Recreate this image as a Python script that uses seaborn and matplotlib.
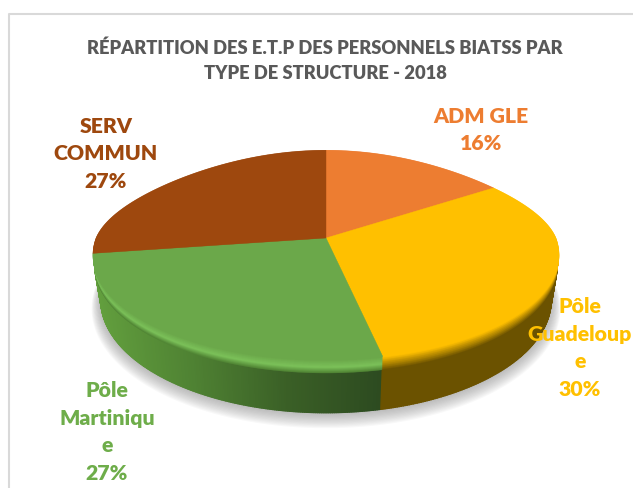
"""Stacked 3D-look pie of BIATSS staff by structure type, 2018."""

import matplotlib
matplotlib.use('Agg')
import matplotlib.pyplot as plt
from matplotlib.collections import PolyCollection
from matplotlib.patches import Polygon
import numpy as np
import seaborn as sns

title = 'RÉPARTITION DES E.T.P DES PERSONNELS BIATSS PAR\nTYPE DE STRUCTURE - 2018'
categories = ['ADM GLE', 'Pôle\nGuadeloup\ne', 'Pôle\nMartiniqu\ne', 'SERV\nCOMMUN']
values = [16, 30, 27, 27]
top_colors = ['#ed7d31', '#ffc000', '#6ba84a', '#9e480e']
rim_colors = ['#7a3f17', '#6b5200', '#4f8233', '#5a2a08']
bevel_colors = ['#f08a45', '#b89000', '#7cc25a', '#a8521a']
label_colors = ['#ed7d31', '#ffc000', '#6ead4a', '#9e480e']
label_pos = [(481, 130), (580, 348), (107, 432), (106, 154)]

# projected disc, in pixels
CX, CY = 326, 238
AX_W, AX_H, TILT = 230, 102, 0.162
WARP = 5          # small angular correction of the view, degrees
SHOULDER = 15     # flattens the back corners of the disc
MID_TOP, MID_BOT = 255, 300
SHRINK_X, STRETCH_Y = 0.966, 1.076
BEVEL = 0.25      # share of the wall height taken by the bevel


def project(theta, f=0.0, radius=1.0):
    """Screen position on the disc, f=0 top face, f=1 bottom face."""
    t = np.radians(theta + WARP * np.sin(np.radians(2 * theta)))
    x = radius * np.cos(t)
    y = radius * np.sin(t)
    w = 1 + TILT * y
    py = CY - AX_H * y / w + SHOULDER * x ** 2 * np.clip(y, 0, None)
    return lower(CX + AX_W * x / w, py, f)


def lower(px, py, f):
    bx = CX + (px - CX) * SHRINK_X
    by = MID_BOT + (py - MID_TOP) * STRETCH_Y
    return np.column_stack([px + f * (bx - px), py + f * (by - py)])


def wedge_xy(t1, t2, f=0.0):
    arc = project(np.linspace(t1, t2, 160), f)
    return np.vstack([lower(np.array([CX]), np.array([CY]), f), arc])


sns.set_theme(style='white')
plt.rcParams['font.family'] = ['Lato', 'DejaVu Sans']

fig = plt.figure(figsize=(6.33, 4.88), dpi=100)
ax = fig.add_axes([0, 0, 1, 1])

# pie gives the angles, the wedges are then redrawn through the projection
wedges, _ = ax.pie(values, startangle=90, counterclock=False)
angles = [(w.theta1, w.theta2) for w in wedges]
for w in wedges:
    w.remove()
ax.set_aspect('auto')
ax.set_xlim(0, 633)
ax.set_ylim(488, 0)
ax.axis('off')

# chart frame, only top and left are inside the crop
ax.plot([640, 9, 9], [14, 14, 495], color='#d9d9d9', lw=1.5, zorder=1)

# soft shadow
for i in range(14):
    shadow = project(np.linspace(0, 360, 300), 1.0 + i * 0.012, 1.0 + i * 0.0035)
    ax.add_patch(Polygon(shadow, color='#808080', alpha=0.05, lw=0, zorder=2))

# side wall, colour follows x on the green part; back slices first
ramp = sns.blend_palette(['#63a03e', '#4f8233', '#3a5f26', '#2c4a20'], 256)
slices = list(zip(angles, top_colors, rim_colors, bevel_colors, categories))[::-1]
for (t1, t2), _, col, _, name in slices:
    th = np.linspace(t1, t2, 200)
    up, down = project(th, BEVEL), project(th, 1.0)
    quads, cols = [], []
    for i in range(len(th) - 1):
        quads.append([up[i], up[i + 1], down[i + 1], down[i]])
        if 'Martin' in name:
            cols.append(ramp[int(np.clip((up[i][0] - 93) / 292 * 255, 0, 255))])
        else:
            cols.append(col)
    ax.add_collection(PolyCollection(quads, facecolors=cols, edgecolors=cols, linewidths=1.0, zorder=3))

# bevel between wall and top
for f in np.linspace(BEVEL, 0.01, 26):
    frac = f / BEVEL
    for (t1, t2), top, rim, bev, name in slices:
        if 'Martin' in name:
            if frac > 0.55:
                c = sns.blend_palette([bev, rim], 20)[int((frac - 0.55) / 0.45 * 19)]
            else:
                c = sns.blend_palette([top, bev], 20)[int(frac / 0.55 * 19)]
        else:
            c = sns.blend_palette([top, rim], 20)[int(frac * 19)]
        ax.add_patch(Polygon(wedge_xy(t1, t2, f), color=c, lw=0.3, zorder=4))

# top surface
for (t1, t2), col in zip(angles, top_colors):
    ax.add_patch(Polygon(wedge_xy(t1, t2), color=col, lw=0.3, zorder=5))

ax.text(325, 60.5, title, ha='center', va='center', fontsize=13.2, fontweight='heavy',
        color='#595959', linespacing=1.6, zorder=6)

for name, val, col, (x, y) in zip(categories, values, label_colors, label_pos):
    ax.text(x, y, f'{name}\n{val}%', ha='center', va='center', fontsize=15.3, fontweight='heavy',
            color=col, linespacing=1.54, zorder=6)

fig.savefig('out.png', dpi=100)
